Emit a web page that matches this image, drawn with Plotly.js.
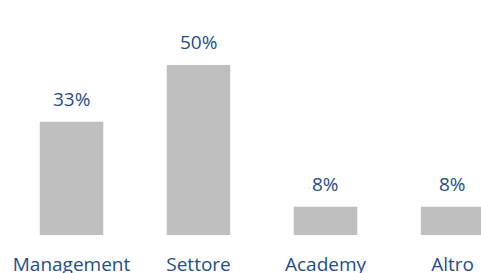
<!DOCTYPE html>
<html>
<head>
<meta charset="utf-8">
<script src="https://cdn.plot.ly/plotly-3.0.1.min.js"></script>
<style>html,body{margin:0;padding:0;background:#fff;}#chart{width:481px;height:273px;}</style>
</head>
<body>
<div id="chart"></div>
<script>
var categories = ["Management", "Settore", "Academy", "Altro"];
var values = [33.3, 50, 8.3, 8.3];
var valueLabels = ["33%", "50%", "8%", "8%"];

var textColor = "#1F4E8C";
var fontFamily = "Open Sans, Noto Sans, sans-serif";

var annotations = categories.map(function (c, i) {
  return {
    x: c, y: values[i], xref: "x", yref: "y",
    text: valueLabels[i], showarrow: false,
    yanchor: "bottom", yshift: 8,
    font: {family: fontFamily, size: 19, color: textColor}
  };
});

Plotly.newPlot("chart", [{
  type: "bar",
  x: categories,
  y: values,
  width: 0.5,
  marker: {color: "#BFBFBF"},
  hoverinfo: "none"
}], {
  width: 481, height: 273,
  margin: {l: 8, r: 0, t: 0, b: 38, pad: 0},
  paper_bgcolor: "#fff", plot_bgcolor: "#fff",
  showlegend: false,
  xaxis: {
    type: "category",
    range: [-0.5, 3.224],
    showgrid: false, zeroline: false, showline: false,
    ticks: "outside", ticklen: 12, tickcolor: "rgba(0,0,0,0)",
    tickfont: {family: fontFamily, size: 19, color: textColor}
  },
  yaxis: {
    range: [0, 69.1],
    visible: false, showgrid: false, zeroline: false
  },
  annotations: annotations
}, {staticPlot: true, displayModeBar: false});
</script>
</body>
</html>
